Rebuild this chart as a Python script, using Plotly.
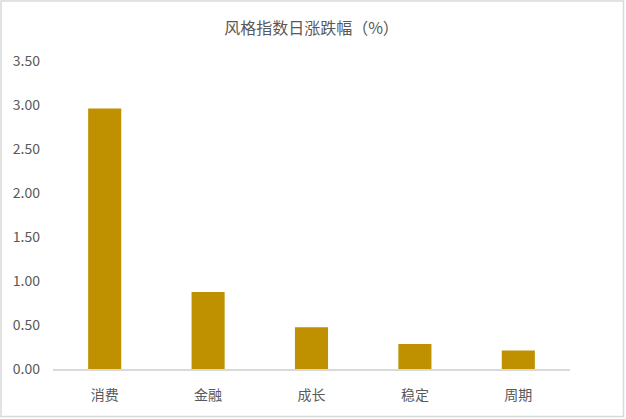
import plotly.graph_objects as go

categories = ["消费", "金融", "成长", "稳定", "周期"]
values = [2.96, 0.875, 0.475, 0.285, 0.21]
tick_vals = [0, 0.5, 1.0, 1.5, 2.0, 2.5, 3.0, 3.5]
tick_text = ["0.00", "0.50", "1.00", "1.50", "2.00", "2.50", "3.00", "3.50"]
title = "风格指数日涨跌幅（%）"

W, H = 626, 419
ml, mr, mt, mb = 53, 56, 61, 50

fig = go.Figure(go.Bar(x=categories, y=values, marker=dict(color="#BF9000", line=dict(width=0))))

pw = W - ml - mr
ph = H - mt - mb
fig.add_shape(type="rect", xref="paper", yref="paper",
              x0=(-ml + 1) / pw, x1=(W - ml - 2.5) / pw,
              y0=(-mb + 2.5) / ph, y1=(H - mb - 1) / ph,
              line=dict(color="#D9D9D9", width=1.5), fillcolor="rgba(0,0,0,0)", layer="below")

fig.update_layout(
    width=W, height=H,
    margin=dict(l=ml, r=mr, t=mt, b=mb),
    paper_bgcolor="white", plot_bgcolor="white",
    font=dict(family="Noto Sans CJK SC, sans-serif", color="#595959", size=14),
    title=dict(text=title, x=0.5, xref="paper", xanchor="center", y=1 - 28 / H, yanchor="middle",
               font=dict(size=16, color="#595959")),
    bargap=0.68,
    showlegend=False,
    xaxis=dict(showline=True, linecolor="#D9D9D9", linewidth=1.5, ticks="", showgrid=False,
               tickfont=dict(size=14, color="#595959"), ticklabelstandoff=12),
    yaxis=dict(range=[0, 3.5], tickvals=tick_vals, ticktext=tick_text, showgrid=False,
               zeroline=False, showline=False, ticks="", ticklabelstandoff=12,
               tickfont=dict(size=14, color="#595959")),
)

fig.write_html("out.html", config={"displayModeBar": False},
               post_script="document.body.style.margin='0';document.body.style.padding='0';")
